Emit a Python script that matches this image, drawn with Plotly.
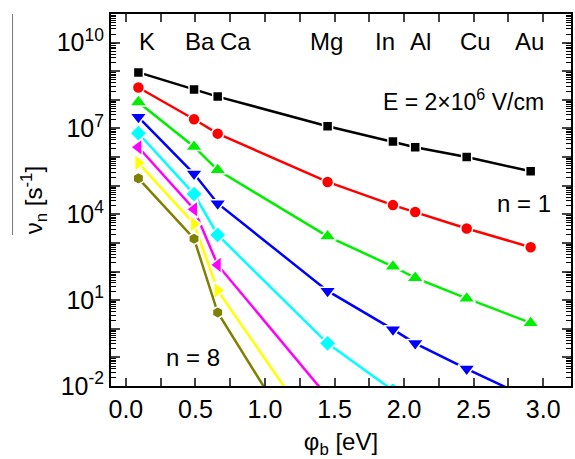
import plotly.graph_objects as go

# ---- data ----
elements = ["K", "Ba", "Ca", "Mg", "In", "Al", "Cu", "Au"]
phi_b = [0.09, 0.49, 0.66, 1.45, 1.92, 2.08, 2.45, 2.91]   # barrier height [eV]
label_x = [0.15, 0.53, 0.79, 1.44, 1.86, 2.12, 2.51, 2.90]  # element label positions

nu_1 = [9.1e8, 2.3e8, 1.3e8, 1.2e7, 3.5e6, 2.2e6, 1.0e6, 3.2e5]
nu_2 = [2.7e8, 2.1e7, 6.6e6, 1.35e5, 2.1e4, 1.2e4, 3.2e3, 7.1e2]
nu_3 = [8.3e7, 2.3e6, 3.5e5, 1.7e3, 1.5e2, 60, 11.5, 1.6]
nu_4 = [2.5e7, 2.6e5, 2.4e4, 21, 0.95, 0.31, 0.04, 3.5e-3]
nu_5 = [6.8e6, 5.1e4, 1.9e3, 0.31, 7e-3]
nu_6 = [2.2e6, 1.5e4, 170, 4.2e-3]
nu_7 = [6.3e5, 4.6e3, 22, 6e-5]
nu_8 = [1.8e5, 1.4e3, 3.7, 2.5e-6]

series = [nu_1, nu_2, nu_3, nu_4, nu_5, nu_6, nu_7, nu_8]
colors = ["#000000", "#ff0000", "#00ee00", "#0000ff", "#00ffff", "#ff00ff", "#ffff00", "#808000"]
symbols = ["square", "circle", "triangle-up", "triangle-down", "diamond",
           "triangle-left", "triangle-right", "hexagon"]
sizes = [10, 12, 15, 15, 13, 15, 15, 12]

FONT = "Liberation Sans, Arial, sans-serif"

fig = go.Figure()
for vals, c, s, sz in zip(series, colors, symbols, sizes):
    fig.add_trace(go.Scatter(
        x=phi_b[:len(vals)], y=vals, mode="lines+markers",
        line=dict(color=c, width=2.5),
        marker=dict(symbol=s, size=sz, color=c, line=dict(color="white", width=1.5)),
        showlegend=False,
    ))

# invisible helper trace so the minor-tick axis is drawn
fig.add_trace(go.Scatter(x=[phi_b[0]], y=[nu_1[0]], yaxis="y2", mode="markers",
                         marker=dict(opacity=0), showlegend=False, hoverinfo="skip"))

# y ticks: every decade, labels every third decade
decades = list(range(-2, 12))
ytickvals = [10.0 ** d for d in decades]
yticktext = [f"10<sup>{d}</sup>" if (d + 2) % 3 == 0 else "" for d in decades]
yminor = [k * 10.0 ** d for d in range(-2, 11) for k in range(2, 10)]

fig.update_layout(
    width=575, height=459,
    margin=dict(l=111, r=2, t=14, b=73),
    plot_bgcolor="white", paper_bgcolor="white",
    font=dict(family=FONT, size=24, color="black"),
    xaxis=dict(
        range=[-0.107, 3.2], tickmode="linear", tick0=0, dtick=0.5,
        tickformat=".1f", ticks="inside", ticklen=8, tickwidth=1.5,
        mirror="allticks", showline=True, linecolor="black", linewidth=2,
        showgrid=False, zeroline=False,
        tickfont=dict(size=25),
        minor=dict(ticks="inside", dtick=0.25, ticklen=5, tickwidth=1.5, showgrid=False),
        title=dict(text="φ<sub>b</sub> [eV]", font=dict(size=24), standoff=14),
    ),
    yaxis=dict(
        type="log", range=[-2, 11.0],
        tickmode="array", tickvals=ytickvals, ticktext=yticktext,
        ticks="inside", ticklen=9, tickwidth=1.5,
        mirror="allticks", showline=True, linecolor="black", linewidth=2,
        showgrid=False, zeroline=False,
        tickfont=dict(size=25),
    ),
    yaxis2=dict(
        type="log", range=[-2, 11.0], overlaying="y", side="left",
        tickmode="array", tickvals=yminor, showticklabels=False,
        ticks="inside", ticklen=5, tickwidth=1.2, tickcolor="black",
        mirror="allticks", showline=True, linecolor="black", linewidth=2,
        showgrid=False, zeroline=False,
    ),
)

# y-axis title placed as an annotation for precise position
fig.add_annotation(xref="paper", yref="paper", x=-0.167, y=0.5,
                   text="ν<sub>n</sub> [s<sup>-1</sup>]", textangle=-90,
                   showarrow=False, font=dict(size=24),
                   xanchor="center", yanchor="middle")

for name, lx in zip(elements, label_x):
    fig.add_annotation(x=lx, y=10.05, text=name, showarrow=False,
                       font=dict(size=24), xanchor="center", yanchor="middle")

fig.add_annotation(x=2.43, y=8.0, text="E = 2×10<sup>6</sup> V/cm", showarrow=False,
                   font=dict(size=23), xanchor="center", yanchor="middle")
fig.add_annotation(x=2.86, y=4.39, text="n = 1", showarrow=False,
                   font=dict(size=24), xanchor="center", yanchor="middle")
fig.add_annotation(x=0.483, y=-1.02, text="n = 8", showarrow=False,
                   font=dict(size=24), xanchor="center", yanchor="middle")

# thin grey vertical rule at the far left (present in the reference)
fig.add_shape(type="line", xref="paper", yref="paper",
              x0=-0.214, x1=-0.214, y0=1.0, y1=0.406,
              line=dict(color="#777777", width=1))

fig.write_html("out.html")
